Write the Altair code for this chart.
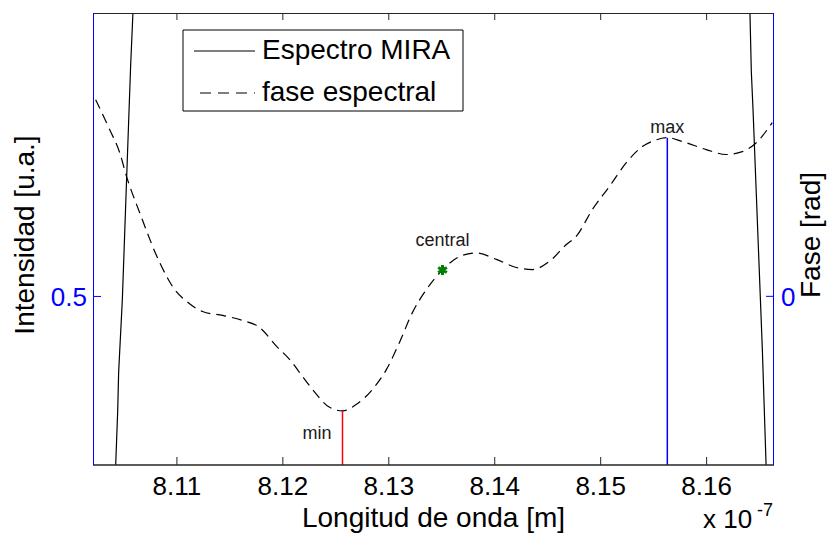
import altair as alt
import pandas as pd

# ---------------- data (x in units of 1e-7 m) ----------------
spec_wl = [8.1040, 8.10422, 8.10441, 8.10450, 8.10485, 8.10525, 8.10563, 8.10585, 8.1070,
           8.1350,
           8.1630, 8.16409, 8.16422, 8.16438, 8.16504, 8.16526, 8.16561, 8.1658]
spec_int = [0.22, 0.2996, 0.3637, 0.4099, 0.4964, 0.6387, 0.7727, 0.8367, 1.17,
            4.0,
            1.15, 0.8367, 0.7667, 0.7217, 0.5083, 0.4372, 0.3008, 0.27]

phase_wl = [8.10233, 8.10365, 8.10460, 8.10525, 8.10648, 8.10837, 8.10978, 8.11092, 8.11242,
            8.11431, 8.11620, 8.11780, 8.11941, 8.12063, 8.12186, 8.12280, 8.12441, 8.12563,
            8.12695, 8.12846, 8.12978, 8.13101, 8.13224, 8.13356, 8.13507, 8.13667, 8.13827,
            8.14016, 8.14205, 8.14356, 8.14516, 8.14676, 8.14771, 8.14922, 8.15082, 8.15242,
            8.15393, 8.15507, 8.15629, 8.15771, 8.15997, 8.16186, 8.16337, 8.16450, 8.16620]
phase_val = [1.166, 0.989, 0.852, 0.710, 0.497, 0.201, 0.041, -0.030, -0.090,
             -0.113, -0.143, -0.184, -0.297, -0.374, -0.475, -0.552, -0.658, -0.679,
             -0.640, -0.552, -0.433, -0.273, -0.095, 0.041, 0.156, 0.236, 0.257,
             0.219, 0.171, 0.159, 0.207, 0.307, 0.357, 0.515, 0.651, 0.793,
             0.888, 0.924, 0.941, 0.918, 0.870, 0.841, 0.858, 0.900, 1.030]

x_ticks = [8.11, 8.12, 8.13, 8.14, 8.15, 8.16]
left_ticks = [0.5]
right_ticks = [0]

marker_names = ["min", "max", "central"]
marker_wl = [8.12563, 8.15629, 8.13507]
marker_phase = [-0.679, 0.941, 0.156]

series_names = ["Espectro MIRA", "fase espectral"]
x_title = "Longitud de onda [m]"
left_title = "Intensidad [u.a.]"
right_title = "Fase [rad]"
exp_text = ["x 10", "-7"]

X_DOM = [8.10208, 8.16636]
Y_LEFT = [0.3, 0.8363]
Y_RIGHT = [-1.0, 1.68]

W, H = 681, 452
FONT = "Liberation Sans"
BLUE = "#0000ff"
AXC = "#262626"
TXT = "#1a1a1a"

# ---------------- tables ----------------
spec_df = pd.DataFrame({"wl": spec_wl, "val": spec_int})
phase_df = pd.DataFrame({"wl": phase_wl, "val": phase_val})
mk_df = pd.DataFrame({"name": marker_names, "wl": marker_wl, "val": marker_phase,
                      "base": Y_RIGHT[0]})
xt_df = pd.DataFrame({"wl": x_ticks})
lt_df = pd.DataFrame({"val": left_ticks})
rt_df = pd.DataFrame({"val": right_ticks})
one = pd.DataFrame({"k": [0]})

xs = alt.Scale(domain=X_DOM, nice=False, zero=False)
ysl = alt.Scale(domain=Y_LEFT, nice=False, zero=False)
ysr = alt.Scale(domain=Y_RIGHT, nice=False, zero=False)

X = alt.X("wl:Q", scale=xs, axis=None)
YL = alt.Y("val:Q", scale=ysl, axis=None)
YR = alt.Y("val:Q", scale=ysr, axis=None)


def label(text, x, y, size=28, color="black", align="center", baseline="alphabetic", angle=0):
    return alt.Chart(one).mark_text(
        text=text, font=FONT, fontSize=size, color=color, align=align,
        baseline=baseline, angle=angle).encode(x=alt.value(x), y=alt.value(y))


# ---------------- left (intensity) layers ----------------
spec_line = alt.Chart(spec_df).mark_line(clip=True, color="black", strokeWidth=1.2).encode(
    x=X, y=YL)
left_tick = alt.Chart(lt_df).mark_rule(color=BLUE, strokeWidth=1).encode(
    y=YL, x=alt.value(0), x2=alt.value(8))
left_lab = alt.Chart(lt_df).mark_text(
    font=FONT, fontSize=26, color=BLUE, align="right", baseline="alphabetic",
    dy=9.5).encode(y=YL, x=alt.value(-6), text=alt.Text("val:Q", format=".1f"))
left_layer = alt.layer(spec_line, left_tick, left_lab)

# ---------------- right (phase) layers ----------------
phase_line = alt.Chart(phase_df).mark_line(
    clip=True, color="black", strokeWidth=1.2, strokeDash=[10, 6],
    interpolate="monotone").encode(x=X, y=YR)

min_rule = alt.Chart(mk_df).transform_filter(alt.datum.name == "min").mark_rule(
    color="#ff0000", strokeWidth=1.5).encode(x=X, y=YR, y2="base:Q")
max_rule = alt.Chart(mk_df).transform_filter(alt.datum.name == "max").mark_rule(
    color=BLUE, strokeWidth=1.5).encode(x=X, y=YR, y2="base:Q")

asterisk = "M0,-1L0,1M-0.866,-0.5L0.866,0.5M-0.866,0.5L0.866,-0.5"
star = alt.Chart(mk_df).transform_filter(alt.datum.name == "central").mark_point(
    shape=asterisk, filled=False, color="#008000", strokeWidth=3, size=100,
    opacity=1).encode(x=X, y=YR)

lab_min = alt.Chart(mk_df).transform_filter(alt.datum.name == "min").mark_text(
    font=FONT, fontSize=18, color=TXT, align="right", baseline="alphabetic",
    dx=-11, dy=28).encode(x=X, y=YR, text="name:N")
lab_max = alt.Chart(mk_df).transform_filter(alt.datum.name == "max").mark_text(
    font=FONT, fontSize=18, color=TXT, align="center", baseline="alphabetic",
    dy=-5).encode(x=X, y=YR, text="name:N")
lab_cen = alt.Chart(mk_df).transform_filter(alt.datum.name == "central").mark_text(
    font=FONT, fontSize=18, color=TXT, align="center", baseline="alphabetic",
    dy=-24).encode(x=X, y=YR, text="name:N")

right_tick = alt.Chart(rt_df).mark_rule(color=BLUE, strokeWidth=1).encode(
    y=YR, x=alt.value(W - 8), x2=alt.value(W))
right_lab = alt.Chart(rt_df).mark_text(
    font=FONT, fontSize=26, color=BLUE, align="left", baseline="alphabetic",
    dy=9.5).encode(y=YR, x=alt.value(W + 7), text=alt.Text("val:Q", format=".0f"))

# frame: black top/bottom, blue left/right
frame_top = alt.Chart(one).mark_rule(color=AXC, strokeWidth=1).encode(
    x=alt.value(0), x2=alt.value(W), y=alt.value(0.5))
frame_bot = alt.Chart(one).mark_rule(color=AXC, strokeWidth=1.3).encode(
    x=alt.value(0), x2=alt.value(W), y=alt.value(H))
frame_left = alt.Chart(one).mark_rule(color=BLUE, strokeWidth=1).encode(
    x=alt.value(0.5), y=alt.value(0), y2=alt.value(H))
frame_right = alt.Chart(one).mark_rule(color=BLUE, strokeWidth=1).encode(
    x=alt.value(W - 0.5), y=alt.value(0), y2=alt.value(H))

bottom_ticks = alt.Chart(xt_df).mark_rule(color=AXC, strokeWidth=1).encode(
    x=X, y=alt.value(H - 8), y2=alt.value(H))
top_ticks = alt.Chart(xt_df).mark_rule(color=AXC, strokeWidth=1).encode(
    x=X, y=alt.value(0), y2=alt.value(7))
x_labels = alt.Chart(xt_df).mark_text(
    font=FONT, fontSize=26, color="black", align="center", baseline="alphabetic").encode(
    x=X, y=alt.value(H + 30), text=alt.Text("wl:Q", format=".2f"))

titles = [
    label(x_title, W / 2, H + 62),
    label(left_title, -67, H / 2 - 4, baseline="middle", angle=270),
    label(right_title, W + 38, H / 2 - 4, baseline="middle", angle=270),
    label(exp_text[0], 610, 515, size=26, align="left"),
    label(exp_text[1], 664, 503, size=18, align="left"),
]

# legend box (drawn by hand to match the reference's proportions)
LX0, LX1, LY0, LY1 = 90, 370, 17, 98
legend_parts = [
    alt.Chart(one).mark_rect(fill="white", stroke="black", strokeWidth=1).encode(
        x=alt.value(LX0), x2=alt.value(LX1), y=alt.value(LY0), y2=alt.value(LY1)),
    alt.Chart(one).mark_rule(color="black", strokeWidth=1.2).encode(
        x=alt.value(101), x2=alt.value(162), y=alt.value(38)),
    alt.Chart(one).mark_rule(color="black", strokeWidth=1.2, strokeDash=[11, 7]).encode(
        x=alt.value(107), x2=alt.value(162), y=alt.value(80)),
    label(series_names[0], 169, 38, size=28, align="left", baseline="middle"),
    label(series_names[1], 169, 80, size=28, align="left", baseline="middle"),
]

right_layer = alt.layer(
    phase_line, min_rule, max_rule, star, lab_min, lab_max, lab_cen,
    frame_top, frame_bot, frame_left, frame_right,
    right_tick, right_lab, bottom_ticks, top_ticks, x_labels,
    *titles, *legend_parts)

chart = alt.layer(left_layer, right_layer).resolve_scale(y="independent").properties(
    width=W, height=H,
    padding={"left": 85, "top": 5, "right": 53, "bottom": 69},
    autosize=alt.AutoSizeParams(type="none"),
).configure_view(stroke=None)

chart.save("out.html", embed_options={"renderer": "svg", "actions": False})
